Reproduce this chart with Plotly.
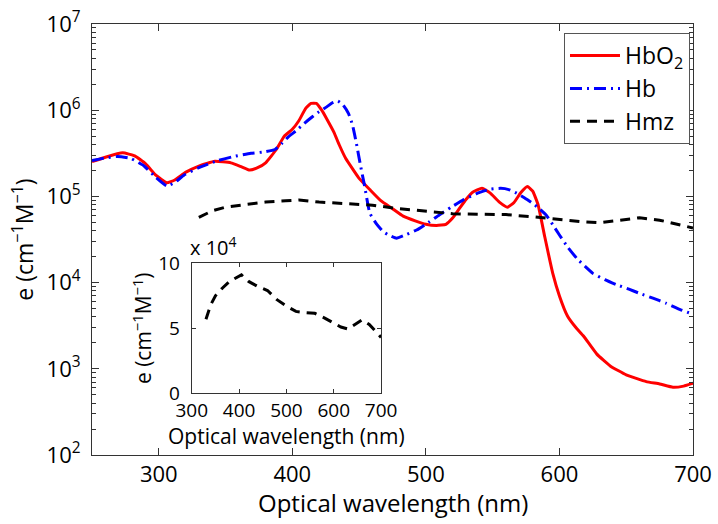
import plotly.graph_objects as go

# ---------------- data ----------------
hbo2_wl = [250, 260, 273, 282, 290, 298, 306, 312, 320, 330, 342, 354, 362, 368, 374, 380, 388, 394,
           400, 405, 410, 414, 418, 422, 426, 431, 435, 440, 445, 450, 458, 466, 475, 483, 492, 500,
           508, 515, 520, 525, 530, 535, 542, 548, 555, 561, 566, 571, 576, 580, 584, 589, 595, 600,
           606, 612, 618, 628, 638, 650, 665, 675, 685, 693, 700]
hbo2 = [2.53e5, 2.85e5, 3.2e5, 2.95e5, 2.4e5, 1.75e5, 1.44e5, 1.55e5, 1.9e5, 2.25e5, 2.55e5, 2.45e5,
        2.2e5, 2.02e5, 2.15e5, 2.45e5, 3.5e5, 5.0e5, 6.0e5, 7.6e5, 1.05e6, 1.2e6, 1.2e6, 1.0e6, 7.8e5,
        5.6e5, 4.0e5, 2.75e5, 2.1e5, 1.62e5, 1.2e5, 9.0e4, 7.2e4, 5.9e4, 5.2e4, 4.75e4, 4.6e4, 4.75e4,
        5.6e4, 7.2e4, 9.2e4, 1.12e5, 1.24e5, 1.1e5, 8.6e4, 7.5e4, 8.5e4, 1.1e5, 1.3e5, 1.15e5, 8.0e4,
        3.4e4, 1.28e4, 7.0e3, 4.1e3, 3.05e3, 2.4e3, 1.48e3, 1.08e3, 850, 710, 667, 610, 630, 680]

hb_wl = [250, 260, 269, 279, 289, 298, 306, 312, 319, 330, 344, 356, 369, 380, 387, 392, 397, 403,
         409, 415, 420, 426, 430, 434, 438, 442, 445, 448, 451, 454, 458, 463, 468, 473, 478, 485,
         493, 502, 510, 519, 528, 538, 548, 556, 562, 568, 574, 580, 585, 590, 595, 600, 606, 613,
         619, 625, 634, 643, 652, 660, 670, 680, 690, 700]
hb = [2.6e5, 2.8e5, 2.9e5, 2.76e5, 2.25e5, 1.65e5, 1.32e5, 1.45e5, 1.77e5, 2.15e5, 2.6e5, 2.9e5,
      3.16e5, 3.3e5, 3.5e5, 4.1e5, 4.9e5, 5.8e5, 7.05e5, 8.4e5, 9.6e5, 1.1e6, 1.22e6, 1.28e6, 1.15e6,
      9.2e5, 6.8e5, 4.1e5, 2.3e5, 1.35e5, 6.4e4, 4.8e4, 3.9e4, 3.5e4, 3.27e4, 3.6e4, 4.07e4, 5.0e4,
      6.1e4, 7.5e4, 9.1e4, 1.08e5, 1.21e5, 1.24e5, 1.2e5, 1.09e5, 9.6e4, 8.3e4, 7.2e4, 6.1e4, 4.7e4,
      3.57e4, 2.6e4, 1.91e4, 1.55e4, 1.28e4, 1.08e4, 9.4e3, 8.4e3, 7.5e3, 6.6e3, 5.75e3, 4.9e3, 4.3e3]

hmz_wl = [330, 340, 350, 365, 380, 395, 405, 420, 440, 460, 480, 500, 520, 540, 560, 580, 600, 615,
          630, 645, 660, 675, 690, 700]
hmz = [5.7e4, 6.8e4, 7.5e4, 8.1e4, 8.6e4, 8.9e4, 9.1e4, 8.6e4, 8.2e4, 7.9e4, 7.2e4, 6.7e4, 6.3e4,
       6.2e4, 6.15e4, 5.8e4, 5.4e4, 5.1e4, 4.95e4, 5.3e4, 5.65e4, 5.3e4, 4.7e4, 4.3e4]

x_ticks = [300, 400, 500, 600, 700]
y_decades = [2, 3, 4, 5, 6, 7]
inset_x_ticks = [300, 400, 500, 600, 700]
inset_y_ticks = [0, 5e4, 1e5]
inset_y_labels = ["0", "5", "10"]

# ---------------- figure ----------------
FONT = "Open Sans"
AX = "#333333"

fig = go.Figure()
fig.add_trace(go.Scatter(x=hbo2_wl, y=hbo2, mode="lines", name="HbO<sub>2</sub>",
                         line=dict(color="#ff0000", width=3, shape="spline", smoothing=0.4)))
fig.add_trace(go.Scatter(x=hb_wl, y=hb, mode="lines", name="Hb",
                         line=dict(color="#0000ff", width=3, dash="12px,5px,2px,5px",
                                   shape="spline", smoothing=0.4)))
fig.add_trace(go.Scatter(x=hmz_wl, y=hmz, mode="lines", name="Hmz",
                         line=dict(color="#000000", width=3, dash="10px,7px")))
fig.add_trace(go.Scatter(x=hmz_wl, y=hmz, mode="lines", showlegend=False,
                         xaxis="x2", yaxis="y2",
                         line=dict(color="#000000", width=3, dash="10px,7px")))

minor_vals = [m * 10 ** k for k in range(2, 7) for m in range(2, 10)]

fig.update_layout(
    width=718, height=524,
    margin=dict(l=92, r=25, t=24, b=69, autoexpand=False),
    paper_bgcolor="white", plot_bgcolor="white",
    font=dict(family=FONT, size=20, color="black"),
    xaxis=dict(range=[250, 700], tickmode="array", tickvals=x_ticks,
               ticks="inside", ticklen=7, tickcolor=AX, showline=True, linecolor=AX, linewidth=1,
               mirror="ticks", showgrid=False, zeroline=False, automargin=False,
               tickfont=dict(size=22), ticklabelstandoff=0),
    yaxis=dict(type="log", range=[2, 7], tickmode="array",
               tickvals=[10 ** k for k in y_decades],
               ticktext=["10<sup>%d</sup>" % k for k in y_decades],
               ticks="inside", ticklen=7, tickcolor=AX, showline=True, linecolor=AX, linewidth=1,
               mirror="ticks", showgrid=False, zeroline=False, automargin=False,
               tickfont=dict(size=22), ticklabelstandoff=6,
               minor=dict(tickmode="array", tickvals=minor_vals, ticks="inside", ticklen=4,
                          tickcolor=AX, showgrid=False),
               title=dict(text="e (cm<sup>−1</sup>M<sup>−1</sup>)", font=dict(size=23), standoff=6)),
    xaxis2=dict(domain=[0.166, 0.481], anchor="y2", range=[300, 700], tickmode="array",
                tickvals=inset_x_ticks, ticks="inside", ticklen=4, tickcolor=AX,
                showline=True, linecolor=AX, linewidth=1, mirror="ticks", automargin=False,
                showgrid=False, zeroline=False, tickfont=dict(size=19), ticklabelstandoff=0),
    yaxis2=dict(domain=[0.143, 0.445], anchor="x2", range=[0, 1e5], tickmode="array",
                tickvals=inset_y_ticks, ticktext=inset_y_labels, ticks="inside", ticklen=4,
                tickcolor=AX, showline=True, linecolor=AX, linewidth=1, mirror="ticks",
                showgrid=False, zeroline=False, tickfont=dict(size=19), ticklabelstandoff=7,
                automargin=False,
                title=dict(text="e (cm<sup>−1</sup>M<sup>−1</sup>)", font=dict(size=21), standoff=0)),
    legend=dict(x=0.995, y=0.979, xanchor="right", yanchor="top",
                bordercolor="#555555", borderwidth=1, bgcolor="white",
                font=dict(size=23), itemwidth=50, tracegroupgap=0),
    showlegend=True,
)

# x-axis titles
fig.add_annotation(x=0.5, y=-0.111, xref="paper", yref="paper", xanchor="center", yanchor="middle",
                   text="Optical wavelength (nm)", showarrow=False, font=dict(size=24))
fig.add_annotation(x=(0.166 + 0.481) / 2, y=0.044, xref="paper", yref="paper",
                   xanchor="center", yanchor="middle",
                   text="Optical wavelength (nm)", showarrow=False, font=dict(size=21))
fig.add_annotation(x=0.166, y=0.445, xref="paper", yref="paper", xanchor="left", yanchor="bottom",
                   text="x 10<sup>4</sup>", showarrow=False, font=dict(size=20), xshift=-4, yshift=0)

fig.write_html("out.html", config={"displayModeBar": False},
               post_script="document.body.style.margin='0';document.body.style.overflow='hidden';")
